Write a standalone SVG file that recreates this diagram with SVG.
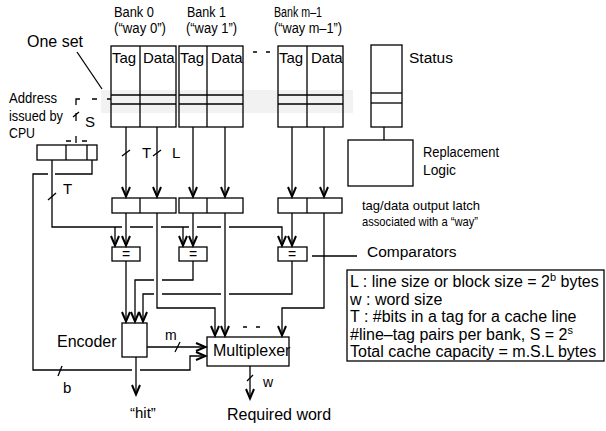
<svg xmlns="http://www.w3.org/2000/svg" width="606" height="431" viewBox="0 0 606 431">
<defs>
<style>
.ln{fill:none;stroke:#000;stroke-width:1.3}
.bx{fill:none;stroke:#000;stroke-width:1.3}
.t{font-family:"Liberation Sans",Arial,sans-serif;fill:#000}
.arr{marker-end:url(#ah)}
</style>
<marker id="ah" markerWidth="14" markerHeight="14" viewBox="-12 -7 14 14" refX="0" refY="0" orient="auto" markerUnits="userSpaceOnUse"><path d="M-10,-4 L-0.5,0 L-10,4" fill="none" stroke="#000" stroke-width="2"/></marker>
</defs>
<rect width="606" height="431" fill="#fff"/>
<rect x="101" y="90" width="252" height="23" fill="#f2f2f2"/>

<g id="set-label">
<text class="t" x="27" y="47" font-size="16">One set</text>
<line class="ln" x1="77" y1="52" x2="102" y2="89"/>
</g>

<g id="bank0">
<rect class="bx" x="111" y="46" width="65" height="81"/>
<line class="ln" x1="140" y1="46" x2="140" y2="127"/>
<line class="ln" x1="111" y1="95" x2="176" y2="95"/>
<line class="ln" x1="111" y1="104" x2="176" y2="104"/>
<text class="t" x="112" y="63" font-size="15">Tag</text>
<text class="t" x="143" y="63" font-size="15">Data</text>
<text class="t" x="114" y="17" font-size="14" textLength="40" lengthAdjust="spacingAndGlyphs">Bank 0</text>
<text class="t" x="114" y="33" font-size="14" textLength="52" lengthAdjust="spacingAndGlyphs">(“way 0”)</text>
</g>

<g id="bank1">
<rect class="bx" x="179" y="46" width="64" height="81"/>
<line class="ln" x1="207" y1="46" x2="207" y2="127"/>
<line class="ln" x1="179" y1="95" x2="243" y2="95"/>
<line class="ln" x1="179" y1="104" x2="243" y2="104"/>
<text class="t" x="180" y="63" font-size="15">Tag</text>
<text class="t" x="211" y="63" font-size="15">Data</text>
<text class="t" x="187" y="17" font-size="14" textLength="39" lengthAdjust="spacingAndGlyphs">Bank 1</text>
<text class="t" x="186" y="33" font-size="14" textLength="51" lengthAdjust="spacingAndGlyphs">(“way 1”)</text>
</g>

<g id="bankm1">
<rect class="bx" x="278" y="46" width="65" height="81"/>
<line class="ln" x1="307" y1="46" x2="307" y2="127"/>
<line class="ln" x1="278" y1="95" x2="343" y2="95"/>
<line class="ln" x1="278" y1="104" x2="343" y2="104"/>
<text class="t" x="279" y="63" font-size="15">Tag</text>
<text class="t" x="311" y="63" font-size="15">Data</text>
<text class="t" x="274" y="17" font-size="14" textLength="48" lengthAdjust="spacingAndGlyphs">Bank m–1</text>
<text class="t" x="274" y="33" font-size="14" textLength="68" lengthAdjust="spacingAndGlyphs">(“way m–1”)</text>
</g>

<g id="status">
<rect class="bx" x="371" y="45" width="31" height="82"/>
<line class="ln" x1="371" y1="93" x2="402" y2="93"/>
<line class="ln" x1="371" y1="103" x2="402" y2="103"/>
<text class="t" x="409" y="63" font-size="15.5">Status</text>
</g>

<g id="replacement">
<rect class="bx" x="348" y="140" width="65" height="46"/>
<text class="t" x="423" y="157" font-size="14" textLength="76" lengthAdjust="spacingAndGlyphs">Replacement</text>
<text class="t" x="423" y="175" font-size="14" textLength="33" lengthAdjust="spacingAndGlyphs">Logic</text>
</g>

<g id="address">
<rect class="bx" x="37" y="145" width="60" height="15"/>
<line class="ln" x1="66" y1="145" x2="66" y2="160"/>
<line class="ln" x1="87" y1="145" x2="87" y2="160"/>
<text class="t" x="9" y="103" font-size="15" textLength="48" lengthAdjust="spacingAndGlyphs">Address</text>
<text class="t" x="9" y="121" font-size="15" textLength="54" lengthAdjust="spacingAndGlyphs">issued by</text>
<text class="t" x="9" y="138" font-size="15" textLength="26" lengthAdjust="spacingAndGlyphs">CPU</text>
<text class="t" x="85" y="127" font-size="15">S</text>
</g>

<g id="latch0">
<rect class="bx" x="112" y="198" width="64" height="15"/>
<line class="ln" x1="140" y1="198" x2="140" y2="213"/>
</g>
<g id="latch1">
<rect class="bx" x="179" y="198" width="64" height="15"/>
<line class="ln" x1="207" y1="198" x2="207" y2="213"/>
</g>
<g id="latchm1">
<rect class="bx" x="278" y="198" width="64" height="15"/>
<line class="ln" x1="307" y1="198" x2="307" y2="213"/>
</g>

<g id="comp0">
<rect class="bx" x="112" y="247" width="28" height="14"/>
<text class="t" x="126" y="259" font-size="14" text-anchor="middle">=</text>
</g>
<g id="comp1">
<rect class="bx" x="179" y="247" width="28" height="14"/>
<text class="t" x="193" y="259" font-size="14" text-anchor="middle">=</text>
</g>
<g id="compm1">
<rect class="bx" x="278" y="247" width="29" height="14"/>
<text class="t" x="292" y="259" font-size="14" text-anchor="middle">=</text>
</g>

<g id="encoder">
<rect class="bx" x="122" y="323" width="25" height="34"/>
<text class="t" x="57" y="347" font-size="16">Encoder</text>
</g>

<g id="multiplexer">
<rect class="bx" x="207" y="337" width="82" height="29"/>
<text class="t" x="213" y="356" font-size="16">Multiplexer</text>
</g>

<g id="notes">
<text class="t" x="362" y="210" font-size="13" textLength="118" lengthAdjust="spacingAndGlyphs">tag/data output latch</text>
<text class="t" x="362" y="226" font-size="13" textLength="116" lengthAdjust="spacingAndGlyphs">associated with a “way”</text>
<text class="t" x="367" y="257" font-size="15.5">Comparators</text>
<text class="t" x="130" y="418" font-size="15">“hit”</text>
<text class="t" x="227" y="420" font-size="16">Required word</text>
</g>

<g id="legend">
<rect class="bx" x="347" y="270" width="257" height="91"/>
<text class="t" x="350" y="287" font-size="16">L : line size or block size = 2<tspan font-size="11" dy="-6">b</tspan><tspan dy="6"> bytes</tspan></text>
<text class="t" x="350" y="304.5" font-size="16">w : word size</text>
<text class="t" x="350" y="322" font-size="16">T : #bits in a tag for a cache line</text>
<text class="t" x="350" y="339.5" font-size="16">#line–tag pairs per bank, S = 2<tspan font-size="11" dy="-6">s</tspan></text>
<text class="t" x="350" y="357" font-size="16">Total cache capacity = m.S.L bytes</text>
</g>

<g id="connectors">
<line class="ln" x1="384" y1="127" x2="384" y2="140"/>
<line class="ln" x1="312" y1="256" x2="357" y2="256"/>
<path class="ln" d="M253,52H257M266,52H270"/>
<path class="ln" d="M111,99H107M97,99H92M80,99H76V105M76,113V121M73,117L79,112M76,136V143M66,141H71M82,141H87"/>
<path class="ln arr" d="M126,127V197"/>
<path class="ln arr" d="M157,127V197"/>
<path class="ln arr" d="M193,127V197"/>
<path class="ln arr" d="M225,127V197"/>
<path class="ln arr" d="M292,127V197"/>
<path class="ln arr" d="M324,127V197"/>
<path class="ln" d="M122,156L130,150M153,156L161,150"/>
<text class="t" x="142" y="158" font-size="15">T</text>
<text class="t" x="172" y="158" font-size="15">L</text>
<path class="ln arr" d="M126,213V246"/>
<path class="ln arr" d="M193,213V246"/>
<path class="ln arr" d="M292,213V246"/>
<path class="ln" d="M52,160V227H122M130,227H153M161,227H189M197,227H221"/>
<path class="ln arr" d="M229,227H282V246"/>
<path class="ln arr" d="M115,227V246"/>
<path class="ln arr" d="M183,227V246"/>
<path class="ln" d="M48,200L56,193"/>
<text class="t" x="63" y="194" font-size="15">T</text>
<path class="ln" d="M92,160V174H55M48,174H33V370H132"/>
<path class="ln arr" d="M140,370H190V356H206"/>
<path class="ln" d="M58,376L62,366"/>
<text class="t" x="63" y="393" font-size="15">b</text>
<path class="ln arr" d="M126,261V322"/>
<path class="ln" d="M193,261V280H162"/>
<path class="ln arr" d="M154,280H135V322"/>
<path class="ln" d="M292,261V294H229M221,294H162"/>
<path class="ln arr" d="M154,294H143V322"/>
<path class="ln arr" d="M157,213V308H215V336"/>
<path class="ln arr" d="M225,213V336"/>
<path class="ln arr" d="M324,213V308H282V336"/>
<path class="ln" d="M243,327H247M256,327H260"/>
<path class="ln arr" d="M147,347H206"/>
<path class="ln" d="M175,352L180,342"/>
<text class="t" x="165" y="340" font-size="14">m</text>
<path class="ln arr" d="M136,357V395"/>
<path class="ln arr" d="M250,366V399"/>
<path class="ln" d="M247,381L253,375"/>
<text class="t" x="263" y="387" font-size="14">w</text>
</g>
</svg>
